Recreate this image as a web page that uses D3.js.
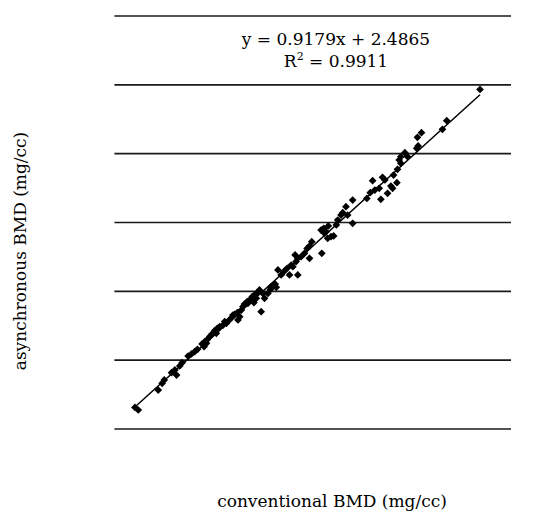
<!DOCTYPE html>
<meta charset="utf-8">
<script src="https://d3js.org/d3.v7.min.js"></script>
<style>
  body { margin: 0; background: #fff; }
  text { font-family: "DejaVu Serif", "Liberation Serif", serif; fill: #000; }
</style>
<body>
<svg id="chart" width="534" height="517"></svg>
<script>
  // values (conventional, asynchronous), mg/cc
  var conventional = [14.7, 17.1, 31.4, 34.2, 35.7, 40.9, 44.5, 43.3, 46.8, 48.5,
    52.8, 55.2, 57.5, 59.5, 62.8, 64.7, 66.6, 64.2, 68.3, 69.9,
    71.8, 73.7, 75.4, 77.8, 80.2, 81.8, 84.2, 86.1, 88.0, 89.7,
    90.9, 88.5, 93.2, 95.1, 96.8, 98.7, 100.4, 102.3, 103.9, 99.9,
    105.1, 107.5, 109.9, 111.8, 113.5, 115.1, 115.9, 117.1, 119.4, 121.3,
    123.7, 125.4, 127.8, 130.1, 131.3, 129.4, 131.3, 136.1, 138.0, 139.7,
    141.3, 139.7, 148.5, 148.0, 149.9, 151.6, 153.2, 155.1, 157.0, 158.9,
    152.7, 159.9, 162.3, 163.5, 165.8, 170.6, 170.6, 167.0, 180.8, 183.2,
    184.9, 186.5, 189.6, 190.8, 192.0, 193.7, 195.6, 198.0, 199.9, 202.3,
    199.2, 202.7, 203.9, 205.1, 208.0, 209.9, 217.0, 217.5, 219.9, 216.5,
    234.9, 238.0, 261.8,
    65.9, 73.0, 79.0, 84.9, 92.1, 95.6, 101.6, 106.3, 112.3, 126.6,
    133.7, 150.4, 205.1];
  var asynchronous = [15.7, 13.8, 28.3, 33.2, 35.6, 40.9, 39.2, 42.9, 45.8, 48.2,
    53.0, 54.5, 56.2, 57.9, 61.8, 63.4, 65.1, 59.8, 67.1, 69.0,
    71.4, 73.1, 74.3, 75.5, 76.8, 78.7, 81.1, 83.3, 84.5, 81.6,
    86.4, 79.2, 90.8, 92.5, 93.7, 96.1, 97.3, 99.0, 101.0, 91.8,
    85.2, 94.9, 98.5, 101.5, 103.9, 105.3, 102.9, 115.5, 111.9, 114.3,
    116.7, 111.9, 117.9, 121.6, 111.9, 126.4, 124.0, 127.6, 131.2, 132.9,
    136.1, 124.0, 127.6, 144.5, 145.8, 143.3, 147.5, 139.7, 140.2, 148.2,
    138.5, 151.8, 155.4, 157.1, 161.5, 166.3, 149.4, 155.4, 167.5, 171.7,
    180.4, 173.6, 174.8, 166.8, 182.8, 180.9, 171.2, 176.5, 184.5, 178.9,
    174.8, 188.6, 195.4, 197.8, 200.7, 197.8, 211.9, 205.6, 215.2, 203.9,
    217.7, 224.0, 246.7,
    62.2, 69.5, 78.0, 82.8, 88.9, 91.3, 94.9, 98.5, 103.4, 119.1,
    125.2, 142.1, 193.0];

  // trend line as printed on the chart
  var slope = 0.9179, intercept = 2.4865;
  var equation = "y = 0.9179x + 2.4865";
  var rSquared = "0.9911";
  var yTicks = [0, 50, 100, 150, 200, 250, 300];

  var data = conventional.map(function(c, i) { return { x: c, y: asynchronous[i] }; });

  var svg = d3.select("#chart");
  var x = d3.scaleLinear().domain([0, 284]).range([114.4, 511]);
  var y = d3.scaleLinear().domain([0, 300]).range([429, 16]);

  // horizontal gridlines (the bottom one doubles as the axis)
  svg.append("g")
    .selectAll("line")
    .data(yTicks)
    .enter()
    .append("line")
    .attr("x1", x.range()[0])
    .attr("x2", x.range()[1])
    .attr("y1", function(d) { return y(d); })
    .attr("y2", function(d) { return y(d); })
    .attr("stroke", "#1a1a1a")
    .attr("stroke-width", 1.6);

  // trend line over the x-extent of the data
  var xExt = d3.extent(conventional);
  svg.append("line")
    .attr("x1", x(xExt[0]))
    .attr("y1", y(slope * xExt[0] + intercept))
    .attr("x2", x(xExt[1]))
    .attr("y2", y(slope * xExt[1] + intercept))
    .attr("stroke", "#000")
    .attr("stroke-width", 1.5);

  // diamond markers
  var diamond = d3.symbol().type(d3.symbolSquare).size(30);
  svg.append("g")
    .selectAll("path")
    .data(data)
    .enter()
    .append("path")
    .attr("d", diamond)
    .attr("transform", function(d) { return "translate(" + x(d.x) + "," + y(d.y) + ") rotate(45)"; })
    .attr("fill", "#000");

  // equation label
  svg.append("text")
    .attr("x", 336)
    .attr("y", 45)
    .attr("text-anchor", "middle")
    .style("font-size", "17px")
    .text(equation);

  var r2 = svg.append("text")
    .attr("x", 336)
    .attr("y", 67)
    .attr("text-anchor", "middle")
    .style("font-size", "17px");
  r2.append("tspan").text("R");
  r2.append("tspan").attr("dy", -7).style("font-size", "11px").text("2");
  r2.append("tspan").attr("dy", 7).text(" = " + rSquared);

  // axis titles
  svg.append("text")
    .attr("x", 332)
    .attr("y", 507)
    .attr("text-anchor", "middle")
    .style("font-size", "17px")
    .text("conventional BMD (mg/cc)");

  svg.append("text")
    .attr("transform", "translate(26,251) rotate(-90)")
    .attr("text-anchor", "middle")
    .style("font-size", "17px")
    .text("asynchronous BMD (mg/cc)");
</script>
</body>
